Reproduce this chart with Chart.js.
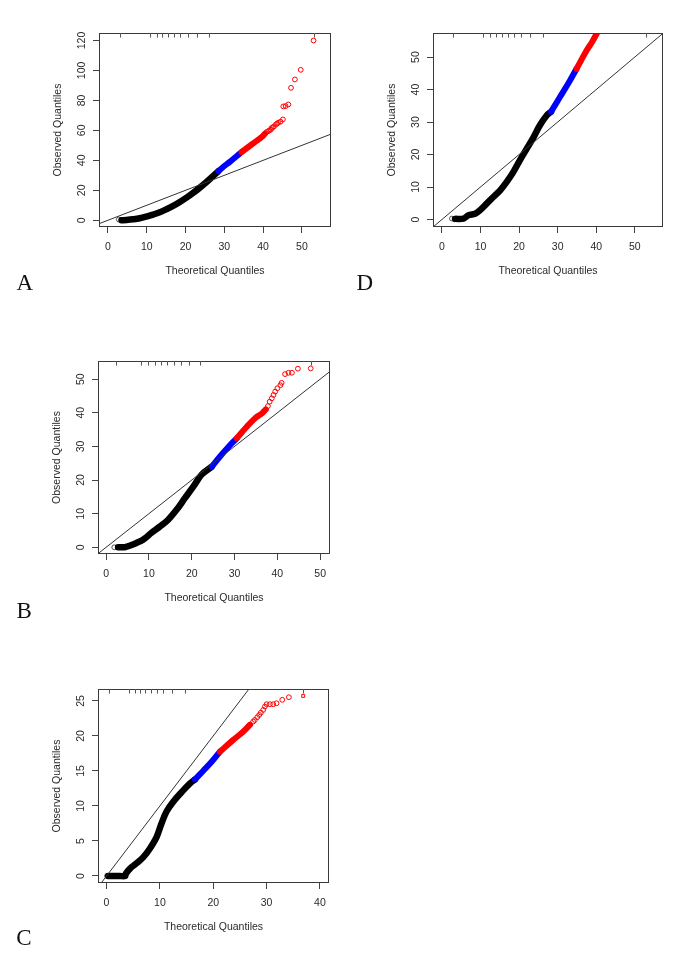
<!DOCTYPE html>
<html>
<head>
<meta charset="utf-8">
<script src="https://cdn.jsdelivr.net/npm/chart.js@4.4.1/dist/chart.umd.min.js"></script>
<style>
  html, body { margin: 0; padding: 0; background: #fff; }
  body { width: 685px; height: 969px; position: relative; overflow: hidden; }
  canvas { position: absolute; }
  .lbl { position: absolute; font-family: "Liberation Serif", "Times New Roman", serif; font-size: 23px; line-height: 23px; color: #111; z-index: 5; }
</style>
</head>
<body>
<div class="lbl" style="left:16.5px; top:271px;">A</div>
<div class="lbl" style="left:356.5px; top:271px;">D</div>
<div class="lbl" style="left:16.5px; top:599px;">B</div>
<div class="lbl" style="left:16.3px; top:926px;">C</div>
<canvas id="cA"></canvas>
<canvas id="cD"></canvas>
<canvas id="cB"></canvas>
<canvas id="cC"></canvas>
<script>
// ---------------- DATA ----------------
const refIntercept = 0, refSlope = 1;

// Panel A
const A_xTicks = [0, 10, 20, 30, 40, 50];
const A_yTicks = [0, 20, 40, 60, 80, 100, 120];
const A_xRange = [-2.3, 57.5];
const A_yRange = [-4.5, 125];
const A_rug = [3.0, 10.8, 12.6, 14.05, 15.5, 17.05, 18.7, 20.7, 22.85, 26.1, 53.0];
const A_minX = [2.8], A_minY = [0.5];
const A_blackX = [3.5, 4.75, 6.47, 8.19, 9.91, 11.64, 13.36, 15.08, 16.8, 18.53, 20.25, 21.97, 23.7, 25.42, 27.14, 28.43];
const A_blackY = [0, 0.22, 0.67, 1.33, 2.44, 3.78, 5.33, 7.33, 9.56, 12.22, 15.11, 18.22, 21.78, 25.56, 29.56, 32.67];
const A_blueX = [28.43, 30.0, 31.5, 33.0, 34.46];
const A_blueY = [32.67, 36.2, 39.2, 42.4, 45.56];
const A_redX = [34.46, 36.18, 37.9, 39.63, 40.49];
const A_redY = [45.56, 48.9, 52.2, 55.6, 57.8];
const A_redPtsX = [40.9, 41.3, 41.6, 42.0, 42.2, 42.5, 42.8, 43.3, 43.6, 43.9, 44.5, 45.1, 45.2, 45.8, 46.5, 47.2, 48.2, 49.7, 53.0];
const A_redPtsY = [58.9, 59.4, 60.0, 60.5, 61.6, 62.0, 62.7, 64.0, 64.5, 65.1, 65.8, 67.3, 76.0, 76.2, 77.3, 88.4, 94.0, 100.4, 120.0];

// Panel D
const D_xTicks = [0, 10, 20, 30, 40, 50];
const D_yTicks = [0, 10, 20, 30, 40, 50];
const D_xRange = [-2.3, 57.3];
const D_yRange = [-2.3, 57.4];
const D_rug = [2.9, 10.7, 12.4, 13.95, 15.5, 17.15, 18.75, 20.6, 22.75, 26.2, 52.9];
const D_minX = [2.6], D_minY = [0.3];
const D_blackX = [3.4, 5.6, 6.9, 8.6, 9.9, 11.6, 13.4, 15.1, 16.8, 18.5, 20.2, 22.0, 23.7, 25.4, 27.2, 28.3];
const D_blackY = [0.2, 0.3, 1.3, 1.8, 2.9, 4.9, 7.0, 9.0, 11.6, 14.6, 18.2, 21.8, 25.2, 29.0, 32.1, 33.2];
const D_blueX = [28.3, 30.6, 33.2, 34.9];
const D_blueY = [33.2, 37.7, 42.8, 46.4];
const D_redX = [34.9, 36.0, 37.5, 39.0, 40.2, 40.7];
const D_redY = [46.4, 48.8, 52.0, 54.8, 57.4, 58.5];
const D_redPtsX = [];
const D_redPtsY = [];

// Panel B
const B_xTicks = [0, 10, 20, 30, 40, 50];
const B_yTicks = [0, 10, 20, 30, 40, 50];
const B_xRange = [-1.9, 52.3];
const B_yRange = [-2.0, 55.4];
const B_rug = [2.2, 8.2, 9.75, 11.3, 12.75, 14.2, 15.85, 17.55, 19.3, 22.0, 47.9];
const B_minX = [1.9], B_minY = [0];
const B_blackX = [2.8, 4.4, 5.1, 7.1, 8.7, 10.6, 12.6, 14.5, 16.5, 18.4, 20.4, 22.3, 24.7];
const B_blackY = [0, 0, 0.3, 1.3, 2.3, 4.3, 6.2, 8.2, 11.2, 14.6, 18.1, 21.6, 24.0];
const B_blueX = [24.7, 26.6, 28.6, 30.5];
const B_blueY = [24.0, 27.0, 29.9, 32.4];
const B_redX = [30.5, 32.9, 34.8, 36.4, 37.3];
const B_redY = [32.4, 35.9, 38.4, 39.8, 41.0];
const B_redPtsX = [37.8, 38.2, 38.7, 39.1, 39.5, 40.0, 40.7, 41.0, 41.8, 42.6, 43.4, 44.8, 47.8];
const B_redPtsY = [42.0, 43.3, 44.3, 45.3, 46.3, 47.3, 48.2, 48.9, 51.5, 51.9, 51.9, 53.1, 53.2];

// Panel C
const C_xTicks = [0, 10, 20, 30, 40];
const C_yTicks = [0, 5, 10, 15, 20, 25];
const C_xRange = [-1.6, 41.7];
const C_yRange = [-1.0, 26.7];
const C_rug = [0.5, 4.25, 5.3, 6.25, 7.3, 8.3, 9.4, 10.6, 12.3, 14.8, 36.9];
const C_minX = [0.1], C_minY = [0];
const C_blackX = [0.3, 1.5, 2.5, 3.5, 3.6, 4.4, 5.6, 6.9, 8.1, 9.4, 10.3, 11.25, 12.5, 14.1, 15.6, 16.6];
const C_blackY = [0, 0, 0, 0, 0.3, 1.05, 1.8, 2.7, 3.9, 5.6, 7.5, 9.2, 10.6, 12.0, 13.2, 13.8];
const C_blueX = [16.6, 18.1, 19.7, 21.25];
const C_blueY = [13.8, 15.0, 16.3, 17.75];
const C_redX = [21.25, 23.7, 25.6, 26.9];
const C_redY = [17.75, 19.4, 20.6, 21.6];
const C_redPtsX = [27.49, 27.8, 28.24, 28.62, 28.93, 29.37, 29.68, 30.0, 30.62, 31.24, 31.87, 32.93, 34.18, 36.87];
const C_redPtsY = [22.05, 22.28, 22.67, 23.0, 23.33, 23.72, 24.19, 24.53, 24.53, 24.53, 24.67, 25.15, 25.53, 25.72];
const C_lastAsSquare = true;

const xTitle = 'Theoretical Quantiles';
const yTitle = 'Observed Quantiles';

// ---------------- LAYOUT ----------------
const PAD_L = 70, PAD_T = 12, PAD_R = 12, PAD_B = 60;
const FONT = '"Liberation Sans", Arial, Helvetica, sans-serif';
const FS = 10.5;
const TXT = '#2a2a2a';

const boxes = {
  A: {L: 99, T: 33, R: 331, B: 227},
  D: {L: 433, T: 33, R: 663, B: 227},
  B: {L: 98, T: 361, R: 330, B: 554},
  C: {L: 98, T: 689, R: 329, B: 883}
};

function pts(xs, ys) { return xs.map((x, i) => ({x: x, y: ys[i]})); }

const qqPlugin = {
  id: 'qqDecor',
  afterDatasetsDraw(chart, args, opts) {
    const {ctx, chartArea: ca, scales} = chart;
    const xs = scales.x, ys = scales.y;
    ctx.save();
    ctx.strokeStyle = '#3a3a3a';
    ctx.lineWidth = 1;
    ctx.strokeRect(ca.left + 0.5, ca.top + 0.5, ca.right - ca.left - 1, ca.bottom - ca.top - 1);
    ctx.strokeStyle = '#555';
    ctx.beginPath();
    (opts.rug || []).forEach(v => {
      const px = Math.round(xs.getPixelForValue(v)) + 0.5;
      ctx.moveTo(px, ca.top);
      ctx.lineTo(px, ca.top + 4.5);
    });
    ctx.stroke();
    ctx.fillStyle = TXT;
    ctx.font = FS + 'px ' + FONT;
    ctx.textAlign = 'center';
    ctx.textBaseline = 'middle';
    ys.ticks.forEach(t => {
      const py = ys.getPixelForValue(t.value);
      ctx.save();
      ctx.translate(ca.left - 17, py);
      ctx.rotate(-Math.PI / 2);
      ctx.fillText(String(t.value), 0, 0);
      ctx.restore();
    });
    ctx.restore();
  }
};

function makePanel(canvasId, box, d) {
  const cv = document.getElementById(canvasId);
  const w = (box.R - box.L) + PAD_L + PAD_R;
  const h = (box.B - box.T) + PAD_T + PAD_B;
  cv.width = w; cv.height = h;
  cv.style.width = w + 'px'; cv.style.height = h + 'px';
  cv.style.left = (box.L - PAD_L) + 'px';
  cv.style.top = (box.T - PAD_T) + 'px';

  const refLine = [d.xRange[0], d.xRange[1]].map(x => ({x: x, y: refIntercept + refSlope * x}));
  const redStyles = d.redPtsX.map((_, i) => (d.square && i === d.redPtsX.length - 1) ? 'rect' : 'circle');
  const redRadius = d.redPtsX.map((_, i) => (d.square && i === d.redPtsX.length - 1) ? 2.1 : 2.4);
  const band = { showLine: true, borderCapStyle: 'round', borderJoinStyle: 'round', pointRadius: 0, clip: 0, tension: 0.35, cubicInterpolationMode: 'default' };

  new Chart(cv, {
    type: 'scatter',
    data: {
      datasets: [
        { label: 'ref', data: refLine, showLine: true, borderColor: '#333', borderWidth: 1, pointRadius: 0, clip: 0, order: 0 },
        { label: 'redPts', data: pts(d.redPtsX, d.redPtsY), showLine: false, borderColor: '#ff0000', backgroundColor: 'rgba(0,0,0,0)', borderWidth: 1, pointRadius: redRadius, pointStyle: redStyles, clip: 0, order: 1 },
        Object.assign({ label: 'red', data: pts(d.redX, d.redY), borderColor: '#ff0000', borderWidth: 6, order: 2 }, band),
        Object.assign({ label: 'blue', data: pts(d.blueX, d.blueY), borderColor: '#0000ff', borderWidth: 6, order: 3 }, band),
        Object.assign({ label: 'black', data: pts(d.blackX, d.blackY), borderColor: '#000', borderWidth: 6.5, order: 4 }, band),
        { label: 'min', data: pts(d.minX, d.minY), showLine: false, borderColor: '#555', backgroundColor: 'rgba(0,0,0,0)', borderWidth: 1, pointRadius: 2.4, clip: 0, order: 5 }
      ]
    },
    options: {
      responsive: false,
      animation: false,
      devicePixelRatio: 1,
      layout: { padding: { left: 0, top: PAD_T, right: PAD_R, bottom: 0 } },
      plugins: { legend: { display: false }, tooltip: { enabled: false }, qqDecor: { rug: d.rug } },
      scales: {
        x: {
          type: 'linear', position: 'bottom', min: d.xRange[0], max: d.xRange[1],
          afterBuildTicks: s => { s.ticks = d.xTicks.map(v => ({value: v})); },
          afterFit: s => { s.height = PAD_B; },
          grid: { drawOnChartArea: false, drawTicks: true, tickLength: 6, color: '#444', lineWidth: 1 },
          border: { display: false },
          ticks: { autoSkip: false, maxRotation: 0, minRotation: 0, padding: 8.2, color: TXT, font: { family: FONT, size: FS }, callback: v => String(v) },
          title: { display: true, text: xTitle, color: TXT, font: { family: FONT, size: FS }, padding: { top: 0, bottom: 9.1 } }
        },
        y: {
          type: 'linear', position: 'left', min: d.yRange[0], max: d.yRange[1],
          afterBuildTicks: s => { s.ticks = d.yTicks.map(v => ({value: v})); },
          afterFit: s => { s.width = PAD_L; },
          grid: { drawOnChartArea: false, drawTicks: true, tickLength: 6, color: '#444', lineWidth: 1 },
          border: { display: false },
          ticks: { display: false },
          title: { display: true, text: yTitle, color: TXT, font: { family: FONT, size: FS }, padding: { top: 22.7, bottom: 0 } }
        }
      }
    },
    plugins: [qqPlugin]
  });
}

makePanel('cA', boxes.A, { xTicks: A_xTicks, yTicks: A_yTicks, xRange: A_xRange, yRange: A_yRange, rug: A_rug,
  minX: A_minX, minY: A_minY, blackX: A_blackX, blackY: A_blackY, blueX: A_blueX, blueY: A_blueY,
  redX: A_redX, redY: A_redY, redPtsX: A_redPtsX, redPtsY: A_redPtsY, square: false });
makePanel('cD', boxes.D, { xTicks: D_xTicks, yTicks: D_yTicks, xRange: D_xRange, yRange: D_yRange, rug: D_rug,
  minX: D_minX, minY: D_minY, blackX: D_blackX, blackY: D_blackY, blueX: D_blueX, blueY: D_blueY,
  redX: D_redX, redY: D_redY, redPtsX: D_redPtsX, redPtsY: D_redPtsY, square: false });
makePanel('cB', boxes.B, { xTicks: B_xTicks, yTicks: B_yTicks, xRange: B_xRange, yRange: B_yRange, rug: B_rug,
  minX: B_minX, minY: B_minY, blackX: B_blackX, blackY: B_blackY, blueX: B_blueX, blueY: B_blueY,
  redX: B_redX, redY: B_redY, redPtsX: B_redPtsX, redPtsY: B_redPtsY, square: false });
makePanel('cC', boxes.C, { xTicks: C_xTicks, yTicks: C_yTicks, xRange: C_xRange, yRange: C_yRange, rug: C_rug,
  minX: C_minX, minY: C_minY, blackX: C_blackX, blackY: C_blackY, blueX: C_blueX, blueY: C_blueY,
  redX: C_redX, redY: C_redY, redPtsX: C_redPtsX, redPtsY: C_redPtsY, square: C_lastAsSquare });
</script>
</body>
</html>
